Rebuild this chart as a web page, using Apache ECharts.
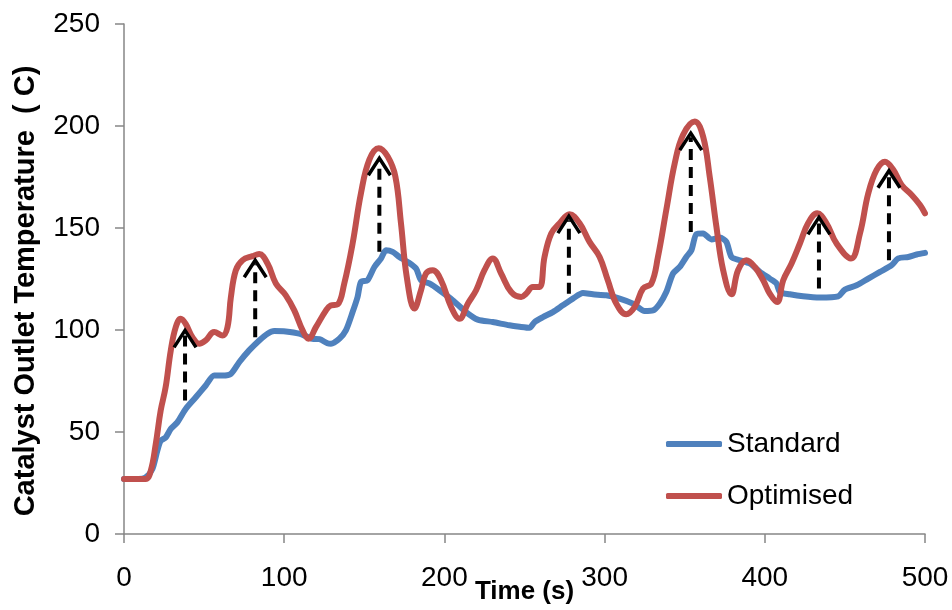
<!DOCTYPE html>
<html>
<head>
<meta charset="utf-8">
<script src="https://cdn.jsdelivr.net/npm/echarts@6/dist/echarts.min.js"></script>
<style>
  html, body { margin: 0; padding: 0; background: #ffffff; }
  #chart { width: 952px; height: 610px; }
</style>
</head>
<body>
<div id="chart"></div>
<script>
// Catalyst outlet temperature over the first 500 s: standard vs optimised strategy
const xTicks = [0, 100, 200, 300, 400, 500];
const yTicks = [0, 50, 100, 150, 200, 250];

const standardTime = [0, 9, 13.5, 17.7, 20.8, 22.9, 26, 29.2, 33.3, 38.5, 44.8, 51, 56.3, 61.5, 66.7, 71.9, 78.1, 84.4, 89.6, 93.8,
  101, 109.4, 117.7, 122, 127, 129.2, 134.4, 138.5, 142.7, 145.8, 147.9, 152, 156.3, 160.4, 163.5, 167.7, 171.9, 177, 182.3, 185.4,
  190.6, 196.9, 205.2, 213.5, 220.8, 230.2, 240.6, 247, 253.1, 256.3, 261.5, 267.7, 273.9, 280.2, 286.5, 292.7, 301, 309.4, 317.7, 325,
  330.2, 334.4, 338.5, 342.7, 346.9, 351, 354.2, 357.3, 361.5, 366.7, 371.9, 376, 379.2, 384.4, 390.6, 396.9, 403.1, 407.3, 409.4, 415.6,
  423.9, 434.4, 445.8, 450, 457.3, 464.6, 471.9, 479.2, 483.3, 489.6, 494.8, 500];
const standardTemp = [27, 27, 27.7, 31.8, 40.8, 45.7, 47.3, 51.5, 54.7, 61.3, 67, 72.8, 77.7, 77.7, 78.5, 84.2, 90, 94.9, 98.2, 99.5,
  99.3, 98.2, 95.7, 95.5, 93.5, 93.3, 95.7, 99.8, 108.8, 116.2, 123.5, 124.4, 130.9, 135, 139.1, 138.3, 135.8, 133.4, 130.1, 124.4,
  122.8, 119.5, 114.6, 108.8, 105.1, 103.9, 102.3, 101.6, 101.1, 103.9, 106.3, 108.8, 112.1, 115.4, 118.1, 117.5, 117, 115.4, 112.9, 109.3,
  109.6, 112.9, 118.6, 127.7, 130.9, 135.8, 139.1, 147, 147.3, 144.4, 145.3, 143.2, 135.8, 134.2, 132.6, 128.5, 125.2, 122.8, 118.6, 117.5,
  116.5, 115.9, 116.5, 119.8, 121.9, 125.2, 128.5, 131.8, 135.1, 135.8, 137, 137.8];

const optimisedTime = [0, 13.5, 16.7, 19.8, 22.9, 26, 29.2, 32.3, 35.4, 38.5, 42.7, 46.9, 51, 56.3, 61.5, 64.6, 66.7, 69.8, 74, 80.2,
  84.4, 89.6, 94.8, 101, 106.3, 111.5, 115.2, 119.8, 126, 129, 133.3, 137.5, 142.7, 147.9, 153.1, 159, 164.6, 169.4, 172.9, 176.5,
  181.3, 185.4, 188.5, 192.7, 197.9, 204.2, 209.4, 214.6, 219.8, 225, 230.2, 235.4, 241.7, 247.9, 251, 255.2, 259.4, 262.5, 266.7, 271.9,
  278.1, 284.4, 290.6, 296.9, 302, 307.3, 313.5, 318.8, 324, 329.2, 333.3, 338.5, 343.8, 349, 356.3, 361.5, 365.6, 369.8, 374, 379.2,
  383.3, 388.5, 393.8, 399, 403.1, 407.7, 411.5, 416.7, 421.9, 427, 432.7, 438.5, 444.8, 453.8, 459.4, 464.6, 469.8, 475, 480.2, 485.4,
  491.7, 496.9, 500];
const optimisedTemp = [27, 27, 31, 44, 60.5, 72, 90, 101.4, 105.5, 103, 96.5, 93.3, 94.9, 99, 97.3, 101.4, 116, 129.3, 134.2, 136.2,
  137.2, 132.6, 122.8, 117, 109.6, 99.8, 95.7, 101.4, 109.5, 112, 112.5, 122.8, 142.4, 167, 183.4, 189.1, 185, 175.2, 152.3, 126,
  110.5, 119.5, 127.7, 129.3, 124.4, 111.3, 105.5, 112.9, 119.5, 129.3, 135.1, 127.7, 118.6, 116.2, 117.8, 121.1, 121.1, 135.8, 147.3, 152.3,
  156.8, 152.3, 143.2, 135.8, 124.4, 112.9, 107.7, 111.3, 120.3, 122.8, 135.8, 158.8, 181.8, 195.7, 202.2, 194.8, 175.2, 150.6, 129.3, 117.5,
  129.3, 134.2, 130.9, 124.4, 117.8, 113.7, 124.4, 132.6, 142.4, 152.3, 157.2, 152.3, 142.4, 135.1, 147.3, 167, 178.5, 182.5, 178.5, 171.1,
  166.2, 161.3, 157.2];

// Dashed arrows marking the temperature gain at each peak
const arrowTime = [38.1, 81.9, 159.4, 277.7, 353.8, 433.8, 477.5];
const arrowFrom = [65.4, 96.5, 138.3, 117.8, 148.1, 120.3, 134.2];
const arrowTo = [99.8, 134.2, 184.2, 155.8, 196.5, 155.2, 178.1];

const zipPairs = (xs, ys) => xs.map((x, i) => [x, ys[i]]);
const arrowData = arrowTime.map((t, i) => [t, arrowFrom[i], arrowTo[i]]);

const FONT = "'Liberation Sans', Arial, sans-serif";
const AXIS_GREY = '#868686';

const chart = echarts.init(document.getElementById('chart'), null, { renderer: 'canvas' });

chart.setOption({
  backgroundColor: '#ffffff',
  animation: false,
  grid: { left: 124, right: 27, top: 24, bottom: 76, containLabel: false, outerBoundsMode: 'none' },
  legend: {
    orient: 'vertical',
    left: 661,
    top: 423,
    itemWidth: 56,
    itemHeight: 6,
    itemGap: 20,
    icon: 'roundRect',
    textStyle: { fontFamily: FONT, fontSize: 28, color: '#000000', lineHeight: 32 },
    data: ['Standard', 'Optimised']
  },
  xAxis: {
    type: 'value',
    min: xTicks[0],
    max: xTicks[xTicks.length - 1],
    interval: xTicks[1] - xTicks[0],
    name: 'Time (s)',
    nameLocation: 'middle',
    nameGap: 45,
    nameMoveOverlap: false,
    nameTextStyle: { fontFamily: FONT, fontSize: 26, fontWeight: 'bold', color: '#000000' },
    axisLine: { show: true, lineStyle: { color: AXIS_GREY, width: 1.5 } },
    axisTick: { show: true, length: 9, inside: false, lineStyle: { color: AXIS_GREY, width: 1.5 } },
    axisLabel: { fontFamily: FONT, fontSize: 28, color: '#000000', margin: 30 },
    splitLine: { show: false }
  },
  yAxis: {
    type: 'value',
    min: yTicks[0],
    max: yTicks[yTicks.length - 1],
    interval: yTicks[1] - yTicks[0],
    name: 'Catalyst Outlet Temperature  ( C)',
    nameLocation: 'middle',
    nameGap: 84,
    nameMoveOverlap: false,
    nameTextStyle: { fontFamily: FONT, fontSize: 29, fontWeight: 'bold', color: '#000000', padding: [0, 24, 0, 0] },
    axisLine: { show: true, lineStyle: { color: AXIS_GREY, width: 1.5 } },
    axisTick: { show: true, length: 9, inside: false, lineStyle: { color: AXIS_GREY, width: 1.5 } },
    axisLabel: { fontFamily: FONT, fontSize: 28, color: '#000000', margin: 24 },
    splitLine: { show: false }
  },
  series: [
    {
      name: 'Standard',
      type: 'line',
      data: zipPairs(standardTime, standardTemp),
      showSymbol: false,
      symbol: 'none',
      smooth: 0.25,
      color: '#4F81BD',
      lineStyle: { color: '#4F81BD', width: 6, cap: 'round', join: 'round' },
      z: 2
    },
    {
      name: 'Optimised',
      type: 'line',
      data: zipPairs(optimisedTime, optimisedTemp),
      showSymbol: false,
      symbol: 'none',
      smooth: 0.4,
      color: '#C0504D',
      lineStyle: { color: '#C0504D', width: 6, cap: 'round', join: 'round' },
      z: 3
    },
    {
      name: 'Gain',
      type: 'custom',
      data: arrowData,
      z: 5,
      silent: true,
      encode: { x: 0, y: [1, 2] },
      renderItem: function (params, api) {
        const base = api.coord([api.value(0), api.value(1)]);
        const tip = api.coord([api.value(0), api.value(2)]);
        return {
          type: 'group',
          children: [
            {
              type: 'line',
              shape: { x1: base[0], y1: base[1], x2: tip[0], y2: tip[1] + 4 },
              style: { stroke: '#000000', lineWidth: 4, lineDash: [11, 7], fill: null }
            },
            {
              type: 'polyline',
              shape: { points: [[tip[0] - 11, tip[1] + 17], [tip[0], tip[1]], [tip[0] + 11, tip[1] + 17]] },
              style: { stroke: '#000000', lineWidth: 3.5, fill: null, lineJoin: 'miter' }
            }
          ]
        };
      }
    }
  ]
});
</script>
</body>
</html>
